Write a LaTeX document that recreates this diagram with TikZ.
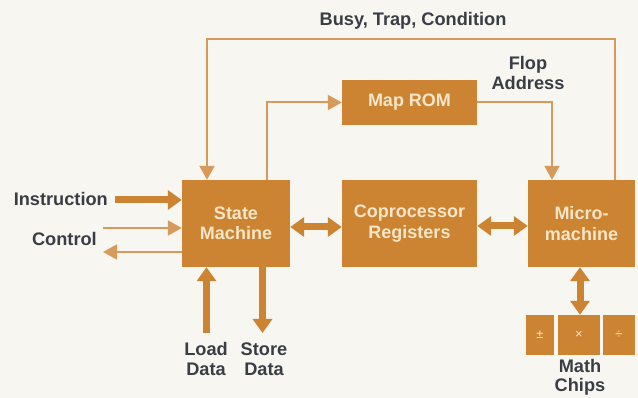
\documentclass[tikz,border=0pt]{standalone}
\usepackage{fontspec}
\setmainfont{Liberation Sans}
\usetikzlibrary{arrows.meta}
\definecolor{boxc}{HTML}{CC8433}
\definecolor{linec}{HTML}{D69A5C}
\definecolor{txt}{HTML}{3A3E44}
\definecolor{boxtxt}{HTML}{F7E6C9}
\definecolor{bg}{HTML}{F7F6F0}
\begin{document}
\begin{tikzpicture}[x=1pt,y=-1pt,
  blk/.style={fill=boxc, draw=none, text=boxtxt, font=\bfseries\fontsize{18}{20.5}\selectfont, align=center, inner sep=0pt},
  chip/.style={fill=boxc, draw=none, text=boxtxt, font=\fontsize{13}{13}\selectfont, inner sep=0pt, minimum height=40pt},
  lbl/.style={text=txt, font=\bfseries\fontsize{18.2}{20}\selectfont, align=center, inner sep=0pt},
  thinarr/.style={draw=linec, line width=2pt, -{Triangle[length=14pt,width=15pt]}},
  fatarr/.style={draw=boxc, line width=7pt, -{Triangle[length=14pt,width=19pt]}},
  fatboth/.style={draw=boxc, line width=7pt, {Triangle[length=14pt,width=19pt]}-{Triangle[length=14pt,width=19pt]}}
]
\fill[bg] (0,0) rectangle (638,398);
\useasboundingbox (0,0) rectangle (638,398);

% blocks
\node[blk, minimum width=108pt, minimum height=87pt] (sm) at (236,223.5) {State\\Machine};
\node[blk, minimum width=135pt, minimum height=87pt] (cr) at (409.5,223.5) {Coprocessor\\Registers};
\node[blk, minimum width=107pt, minimum height=87pt] (mm) at (581.5,223.5) {Micro-\\machine};
\node[blk, minimum width=135pt, minimum height=45pt] (rom) at (409.5,102.5) {Map ROM};
\node[chip, minimum width=28pt] (c1) at (540,335) {±};
\node[chip, minimum width=42pt] (c2) at (579,335) {×};
\node[chip, minimum width=32pt] (c3) at (619,335) {÷};

% labels
\node[lbl, anchor=base east] (instr) at (108,206) {Instruction};
\node[lbl, anchor=base east] (ctrl) at (97,246) {Control};
\node[lbl, anchor=base] (busy) at (413,26) {Busy, Trap, Condition};
\node[lbl] (flop) at (528,72.5) {Flop\\Address};
\node[lbl] (load) at (206,359) {Load\\Data};
\node[lbl] (store) at (264,359) {Store\\Data};
\node[lbl, font=\bfseries\fontsize{18.2}{19}\selectfont] (math) at (580,377.5) {Math\\Chips};

% free ends
\coordinate (instrS) at (115,200);
\coordinate (ctrlIn) at (103,228);
\coordinate (ctrlOut) at (103,252);
\coordinate (loadS) at (206.5,333);
\coordinate (storeE) at (262.5,333);

% left side
\draw[fatarr] (instrS) -- (instrS -| sm.west);
\draw[thinarr] (ctrlIn) -- (ctrlIn -| sm.west);
\draw[thinarr] (ctrlOut -| sm.west) -- (ctrlOut);
% bottom
\draw[fatarr] (loadS) -- (loadS |- sm.south);
\draw[fatarr] (storeE |- sm.south) -- (storeE);
% double arrows
\draw[fatboth] (sm.east |- 0,227) -- (cr.west |- 0,227);
\draw[fatboth] (cr.east |- 0,226) -- (mm.west |- 0,226);
\draw[fatboth] (mm.south -| 580,0) -- (c2.north -| 580,0);
% top feedback
\draw[thinarr] (mm.north -| 615,0) -- (615,39) -- (207,39) -- (sm.north -| 207,0);
% map rom path
\draw[thinarr] (sm.north -| 267,0) |- (rom.west);
\draw[thinarr] (rom.east) -| (mm.north -| 552,0);
\end{tikzpicture}
\end{document}
